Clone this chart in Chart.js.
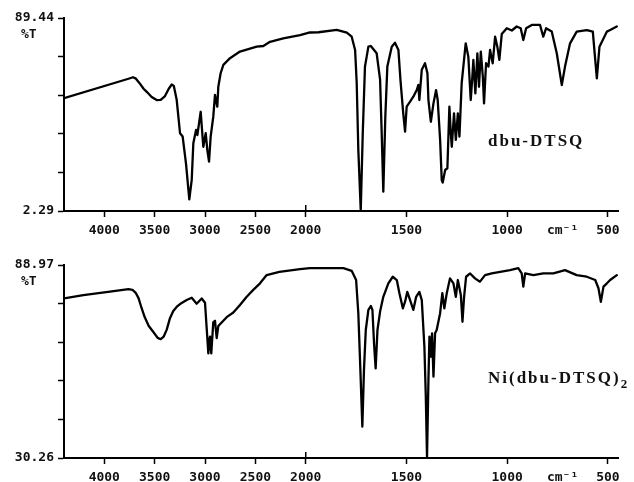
<!DOCTYPE html>
<html>
<head>
<meta charset="utf-8">
<script src="https://cdn.jsdelivr.net/npm/chart.js@4.4.1/dist/chart.umd.min.js"></script>
<style>
  html, body { margin: 0; padding: 0; background: #fff; }
  canvas { display: block; }
</style>
</head>
<body>
<canvas id="topChart" width="634" height="241"></canvas>
<canvas id="bottomChart" width="634" height="241"></canvas>
<script>
// x axis: wavenumber (cm-1), scale doubles below 2000
const X_MAX = 4400;
const X_MIN = 450;
const X_BREAK = 2000;
const xTicks = [4000, 3500, 3000, 2500, 2000, 1500, 1000, 725, 500];
const cmLabelAt = 725;

// dbu-DTSQ
const topWave = [
  4400, 3760, 3715, 3690, 3650, 3610, 3576, 3530, 3480, 3440,
  3400, 3360, 3330, 3310, 3281, 3248, 3222, 3189,
  3156, 3132, 3116, 3089, 3076, 3043, 3017, 2993, 2977, 2960,
  2944, 2918, 2901, 2878, 2868, 2845, 2818, 2752, 2653, 2487,
  2421, 2355, 2223, 2057, 1979, 1937, 1846, 1796, 1772, 1755,
  1747, 1739, 1727, 1717, 1706, 1689, 1677, 1648, 1631, 1623,
  1615, 1605, 1595, 1573, 1557, 1540, 1530, 1516, 1507, 1499,
  1482, 1466, 1449, 1441, 1436, 1424, 1408, 1396, 1391, 1379,
  1366, 1353, 1345, 1333, 1325, 1320, 1308, 1297, 1287, 1280,
  1275, 1264, 1255, 1245, 1237, 1226, 1206, 1193, 1181, 1173,
  1168, 1158, 1148, 1140, 1131, 1121, 1115, 1105, 1093, 1085,
  1072, 1060, 1049, 1039, 1027, 1002, 977, 953, 933, 920,
  906, 878, 837, 821, 807, 779, 754, 729, 713, 688,
  655, 605, 575, 563, 555, 542, 522, 505, 489, 456
];
const topT = [
  53.2, 62.0, 62.7, 62.2, 60.0, 57.5, 56.0, 53.8, 52.4, 52.5,
  54.0, 57.5, 59.4, 58.8, 52.4, 37.4, 35.9, 23.8,
  7.5, 16.3, 32.9, 38.9, 36.6, 47.1, 31.3, 37.4, 29.8, 24.6,
  35.9, 44.9, 54.7, 49.4, 58.4, 64.5, 68.3, 71.3, 74.3, 76.5,
  76.8, 78.7, 80.2, 81.7, 82.9, 83.0, 84.1, 82.8, 81.0, 75.0,
  60.0, 29.8, 2.7, 37.4, 67.5, 76.5, 76.8, 73.5, 61.6, 37.4,
  11.0, 44.9, 67.5, 76.5, 78.3, 75.0, 61.6, 46.4, 38.1, 49.4,
  51.7, 53.9, 56.9, 59.2, 52.4, 66.1, 69.0, 64.5, 52.4, 42.6,
  50.9, 56.9, 52.4, 34.4, 16.3, 15.1, 20.8, 21.6, 49.4, 37.4,
  31.3, 46.4, 34.4, 46.4, 35.9, 60.0, 78.0, 72.0, 52.4, 62.9,
  70.5, 55.4, 73.5, 58.4, 74.3, 62.9, 50.9, 69.0, 67.5, 75.0,
  69.0, 81.0, 76.5, 70.5, 82.2, 84.8, 83.8, 85.6, 84.8, 79.5,
  84.8, 86.3, 86.3, 81.0, 84.8, 83.3, 73.5, 59.2, 67.5, 78.0,
  83.3, 84.0, 83.3, 70.5, 62.2, 76.5, 80.2, 83.3, 84.0, 85.6
];

// Ni(dbu-DTSQ)2
const bottomWave = [
  4400, 4208, 3943, 3760, 3720, 3690, 3660, 3630, 3600, 3560,
  3513, 3470, 3440, 3410, 3380, 3348, 3315, 3280, 3248, 3182,
  3132, 3083, 3033, 3000, 2983, 2967,
  2958, 2950, 2938, 2918, 2901, 2884, 2868, 2785, 2719, 2653,
  2586, 2521, 2454, 2388, 2262, 2057, 1979, 1813, 1772, 1750,
  1739, 1730, 1719, 1711, 1702, 1689, 1677, 1669, 1661, 1653,
  1644, 1631, 1615, 1590, 1568, 1548, 1535, 1518, 1507, 1496,
  1482, 1466, 1452, 1436, 1424, 1411, 1404, 1398, 1391, 1386,
  1379, 1373, 1366, 1358, 1350, 1333, 1322, 1312, 1300, 1284,
  1267, 1255, 1245, 1230, 1222, 1214, 1204, 1184, 1160, 1135,
  1110, 1077, 1035, 986, 945, 928, 920, 911, 870, 821,
  771, 713, 655, 605, 563, 547, 535, 522, 505, 489,
  456
];
const bottomT = [
  78.8, 79.8, 80.9, 81.6, 81.4, 80.6, 78.9, 75.9, 73.2, 70.5,
  68.6, 66.8, 66.4, 67.2, 69.3, 72.8, 75.0, 76.3, 77.1, 78.3,
  79.0, 77.2, 78.8, 77.5, 69.5, 62.1,
  66.0, 67.2, 62.1, 71.5, 72.0, 66.7, 70.4, 73.1, 74.5, 76.8,
  79.3, 81.4, 83.4, 85.9, 86.9, 87.7, 88.0, 88.0, 87.2, 84.4,
  74.3, 59.1, 39.8, 57.0, 69.2, 75.3, 76.5, 75.3, 65.1, 57.5,
  69.2, 74.8, 79.3, 83.4, 85.4, 84.4, 80.4, 75.8, 77.8, 80.8,
  78.3, 75.3, 79.3, 80.8, 78.3, 64.1, 48.9, 30.4, 54.0, 67.2,
  61.1, 68.2, 55.0, 68.2, 69.2, 74.3, 80.4, 75.8, 80.4, 84.9,
  83.4, 79.3, 84.4, 79.8, 71.7, 79.3, 85.4, 86.4, 84.9, 83.9,
  85.9, 86.4, 86.9, 87.4, 88.0, 86.4, 82.4, 86.4, 85.9, 86.4,
  86.4, 87.4, 85.9, 85.4, 84.4, 81.9, 77.8, 82.4, 83.4, 84.4,
  85.9
];

// linear in wavenumber, with twice the spread below the break
function axisUnits(w) {
  return w >= X_BREAK ? X_MAX - w : (X_MAX - X_BREAK) + 2 * (X_BREAK - w);
}

class WaveScale extends Chart.LinearScale {
  getPixelForValue(value) {
    return this.getPixelForDecimal(axisUnits(value) / axisUnits(this.min));
  }
  getValueForPixel(pixel) {
    const u = this.getDecimalForPixel(pixel) * axisUnits(this.min);
    const uBreak = X_MAX - X_BREAK;
    return u <= uBreak ? X_MAX - u : X_BREAK - (u - uBreak) / 2;
  }
}
WaveScale.id = 'wavenumber';
WaveScale.defaults = Chart.LinearScale.defaults;
Chart.register(WaveScale);

const tickFont = { family: '"DejaVu Sans Mono", monospace', weight: 'bold', size: 13 };

const labelPlugin = {
  id: 'sampleLabel',
  afterDraw(chart, args, opts) {
    const ctx = chart.ctx;
    const area = chart.chartArea;
    ctx.save();
    ctx.fillStyle = '#111';
    ctx.font = 'bold 13px "DejaVu Sans Mono", monospace';
    ctx.textBaseline = 'middle';
    ctx.fillText('%T', 21, area.top + 17);

    // small upward mark where the scale changes
    const bx = chart.scales.x.getPixelForValue(X_BREAK);
    ctx.strokeStyle = '#000';
    ctx.lineWidth = 1.5;
    ctx.beginPath();
    ctx.moveTo(bx, area.bottom - 6);
    ctx.lineTo(bx, area.bottom);
    ctx.stroke();

    ctx.font = 'bold 17px "Liberation Serif", serif';
    ctx.letterSpacing = '2px';
    ctx.textBaseline = 'alphabetic';
    ctx.fillText(opts.name, opts.x, opts.y);
    if (opts.sub) {
      const w = ctx.measureText(opts.name).width;
      ctx.font = 'bold 13px "Liberation Serif", serif';
      ctx.fillText(opts.sub, opts.x + w, opts.y + 5);
    }
    ctx.restore();
  }
};

function makeChart(id, wave, trans, yMin, yMax, padTop, xHeight, label) {
  const points = wave.map((w, i) => ({ x: w, y: trans[i] }));
  return new Chart(document.getElementById(id), {
    type: 'line',
    data: {
      datasets: [{
        data: points,
        borderColor: '#000',
        borderWidth: 2.3,
        borderJoinStyle: 'round',
        borderCapStyle: 'round',
        pointRadius: 0,
        tension: 0,
        fill: false,
      }],
    },
    plugins: [labelPlugin],
    options: {
      responsive: false,
      animation: false,
      layout: { padding: { top: padTop, right: 16, left: 0, bottom: 0 } },
      plugins: {
        legend: { display: false },
        tooltip: { enabled: false },
        sampleLabel: label,
      },
      scales: {
        x: {
          type: 'wavenumber',
          min: X_MIN,
          max: X_MAX,
          afterBuildTicks: (s) => { s.ticks = xTicks.map((v) => ({ value: v })); },
          afterFit: (s) => { s.height = xHeight; },
          border: { color: '#000', width: 2 },
          grid: {
            drawOnChartArea: false,
            tickLength: 6,
            tickWidth: 1.5,
            tickColor: (c) => (c.tick && c.tick.value === cmLabelAt ? 'rgba(0,0,0,0)' : '#000'),
          },
          ticks: {
            color: '#111',
            font: tickFont,
            padding: 6,
            autoSkip: false,
            maxRotation: 0,
            callback: (v) => (v === cmLabelAt ? 'cm⁻¹' : String(v)),
          },
        },
        y: {
          min: yMin,
          max: yMax,
          afterBuildTicks: (s) => {
            s.ticks = [0, 1, 2, 3, 4, 5].map((i) => ({ value: yMin + (yMax - yMin) * i / 5 }));
          },
          afterFit: (s) => { s.width = 64; },
          border: { color: '#000', width: 2 },
          grid: { drawOnChartArea: false, tickLength: 6, tickWidth: 1.5, tickColor: '#000' },
          ticks: {
            color: '#111',
            font: tickFont,
            padding: 4,
            callback: (v, i, ticks) => (i === 0 || i === ticks.length - 1 ? v.toFixed(2) : ''),
          },
        },
      },
    },
  });
}

makeChart('topChart', topWave, topT, 2.29, 89.44, 18, 30,
  { name: 'dbu-DTSQ', x: 488, y: 146 });
makeChart('bottomChart', bottomWave, bottomT, 30.26, 88.97, 24, 24,
  { name: 'Ni(dbu-DTSQ)', sub: '2', x: 488, y: 142 });
</script>
</body>
</html>
